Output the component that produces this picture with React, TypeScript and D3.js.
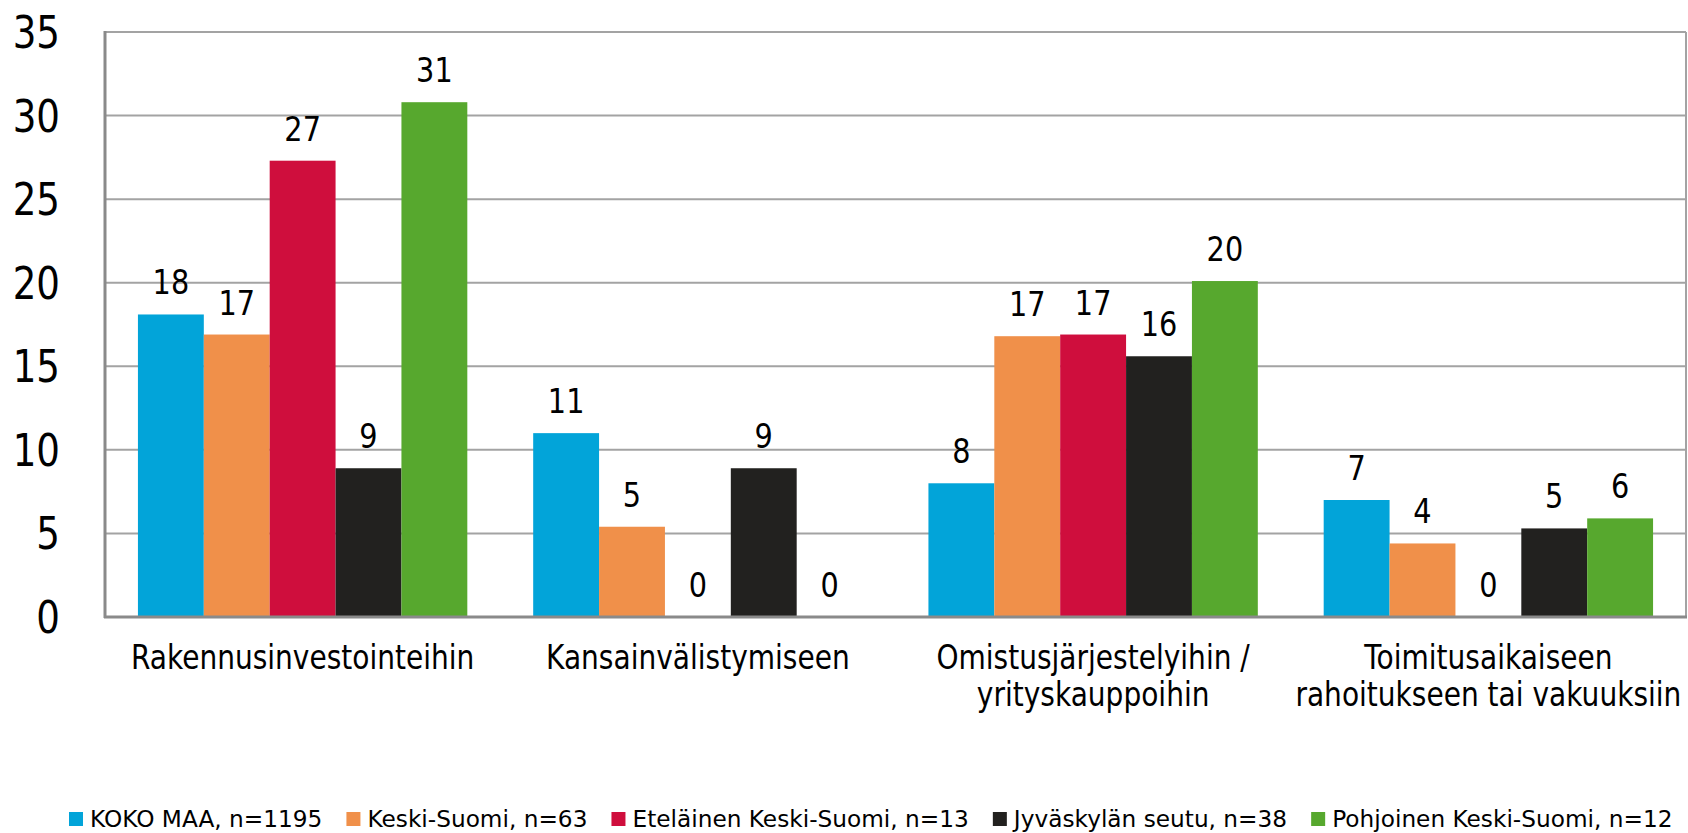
import React from 'react';
import { scaleBand, scaleLinear, range } from 'd3';

const categories = [
    ['Rakennusinvestointeihin'],
    ['Kansainvälistymiseen'],
    ['Omistusjärjestelyihin /', 'yrityskauppoihin'],
    ['Toimitusaikaiseen', 'rahoitukseen tai vakuuksiin']
];

const seriesNames = [
    'KOKO MAA, n=1195',
    'Keski-Suomi, n=63',
    'Eteläinen Keski-Suomi, n=13',
    'Jyväskylän seutu, n=38',
    'Pohjoinen Keski-Suomi, n=12'
];

const colors = ['#02a4d9', '#f0904a', '#cf0e3d', '#22211f', '#57a82e'];

// one array per series, in category order
const kokoMaa = [18.1, 11.0, 8.0, 7.0];
const keskiSuomi = [16.9, 5.4, 16.8, 4.4];
const etelainen = [27.3, 0, 16.9, 0];
const jyvaskyla = [8.9, 8.9, 15.6, 5.3];
const pohjoinen = [30.8, 0, 20.1, 5.9];

const series = [kokoMaa, keskiSuomi, etelainen, jyvaskyla, pohjoinen];

const yTicks = [0, 5, 10, 15, 20, 25, 30, 35];

const width = 1688;
const height = 833;
const left = 105;
const right = 1686;
const top = 32;
const bottom = 617;

const FONT = 'DejaVu Sans, Verdana, sans-serif';
const SQUISH = 0.845;

function measure(text: string, size: number) {
    const ctx = document.createElement('canvas').getContext('2d');
    if (!ctx) return text.length * size * 0.55;
    ctx.font = `${size}px ${FONT}`;
    return ctx.measureText(text).width;
}

function SText({ x, y, size, sx = SQUISH, anchor = 'middle', children }: any) {
    return (
        <g transform={`translate(${x},${y}) scale(${sx},1)`}>
            <text x={0} y={0} fontSize={size} fontFamily={FONT} textAnchor={anchor} fill="#000">
                {children}
            </text>
        </g>
    );
}

export default function App() {
    const x0 = scaleBand<number>()
        .domain(range(categories.length))
        .range([left, right])
        .paddingInner(0)
        .paddingOuter(0);

    const x1 = scaleBand<number>()
        .domain(range(series.length))
        .range([0, x0.bandwidth()])
        .paddingOuter(0.5)
        .paddingInner(0);

    const y = scaleLinear().domain([0, 35]).range([bottom, top]);

    // legend layout
    const legendSize = 23;
    const legendSx = 1.01;
    let lx = 69;
    const legendItems = seriesNames.map((name, i) => {
        const w = measure(name, legendSize) * legendSx;
        const item = { name, x: lx, color: colors[i] };
        lx += 14 + 7 + w + 24;
        return item;
    });

    return (
        <svg width={width} height={height} style={{ position: 'absolute', left: 0, top: 0, background: '#fff' }}>
            {/* gridlines */}
            {yTicks.filter(t => t > 0).map(t => (
                <line key={t} x1={left} x2={right} y1={y(t)} y2={y(t)} stroke="#a3a3a3" strokeWidth={2} />
            ))}
            <line x1={right} x2={right} y1={top} y2={bottom} stroke="#a3a3a3" strokeWidth={2} />

            {/* bars */}
            {series.map((vals, s) =>
                vals.map((v, c) =>
                    v > 0 ? (
                        <rect
                            key={`${s}-${c}`}
                            x={(x0(c) ?? 0) + (x1(s) ?? 0)}
                            y={y(v)}
                            width={x1.bandwidth()}
                            height={y(0) - y(v)}
                            fill={colors[s]}
                        />
                    ) : null
                )
            )}

            {/* axes */}
            <line x1={left} x2={left} y1={top - 1} y2={bottom + 1} stroke="#8a8a8a" strokeWidth={3} />
            <line x1={left - 1} x2={right + 1} y1={bottom} y2={bottom} stroke="#8a8a8a" strokeWidth={3} />

            {/* value labels */}
            {series.map((vals, s) =>
                vals.map((v, c) => (
                    <SText
                        key={`l${s}-${c}`}
                        x={(x0(c) ?? 0) + (x1(s) ?? 0) + x1.bandwidth() / 2}
                        y={y(v) - 20}
                        size={34}
                    >
                        {Math.round(v)}
                    </SText>
                ))
            )}

            {/* y tick labels */}
            {yTicks.map(t => (
                <SText key={t} x={60} y={y(t) + 16} size={44} anchor="end">
                    {t}
                </SText>
            ))}

            {/* category labels */}
            {categories.map((lines, c) =>
                lines.map((line, i) => (
                    <SText
                        key={`c${c}-${i}`}
                        x={(x0(c) ?? 0) + x0.bandwidth() / 2}
                        y={669 + i * 37}
                        size={33}
                        sx={0.85}
                    >
                        {line}
                    </SText>
                ))
            )}

            {/* legend */}
            {legendItems.map(item => (
                <g key={item.name}>
                    <rect x={item.x} y={812} width={14} height={14} fill={item.color} />
                    <SText x={item.x + 21} y={827} size={legendSize} sx={legendSx} anchor="start">
                        {item.name}
                    </SText>
                </g>
            ))}
        </svg>
    );
}
